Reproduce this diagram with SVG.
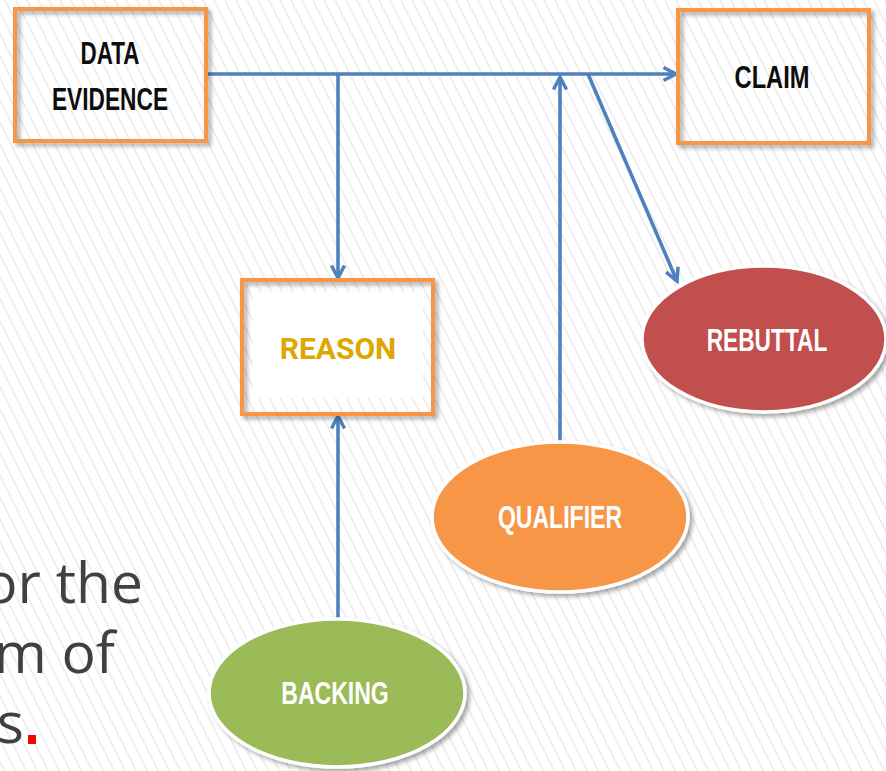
<svg xmlns="http://www.w3.org/2000/svg" width="886" height="771" viewBox="0 0 886 771">
  <defs>
    <!-- diagonal background hatching -->
    <pattern id="hatch" patternUnits="userSpaceOnUse" width="11" height="10" patternTransform="skewX(26.5)">
      <rect width="11" height="10" fill="#ffffff"/>
      <line x1="5" y1="-1" x2="5" y2="11" stroke="#e6e6e6" stroke-width="1.4"/>
    </pattern>
    <filter id="shadow" x="-20%" y="-20%" width="140%" height="140%">
      <feDropShadow dx="3" dy="3" stdDeviation="2" flood-color="#000" flood-opacity="0.35"/>
    </filter>
    <marker id="arrow" markerUnits="userSpaceOnUse" markerWidth="18" markerHeight="18" refX="14" refY="8" orient="auto" viewBox="0 0 18 16">
      <path d="M1.5,1.5 L14,8 L1.5,14.5" fill="none" stroke="#4F81BD" stroke-width="3.5" stroke-linejoin="miter"/>
    </marker>
    <style>
      .box { fill: none; stroke: #F79646; stroke-width: 4; filter: url(#shadow); }
      .oval { stroke: #ffffff; stroke-width: 3.5; filter: url(#shadow); }
      .lbl { font-family: "Liberation Sans", Arial, sans-serif; font-weight: bold; font-size: 32px; text-anchor: middle; }
      .dark { fill: #0d0d0d; }
      .light { fill: #ffffff; }
      .conn { fill: none; stroke: #4F81BD; stroke-width: 3.6; }
      .body { font-family: "Open Sans", "Noto Sans", sans-serif; font-size: 57px; fill: #404040; text-anchor: end; }
    </style>
  </defs>

  <rect width="886" height="771" fill="url(#hatch)"/>

  <!-- clipped slide text on the left -->
  <g id="slide-text">
    <text class="body" x="143" y="603">or the</text>
    <text class="body" x="115" y="673">m of</text>
    <text class="body" x="24" y="743">s</text>
    <rect x="28" y="735" width="8" height="9" fill="#ff0000"/>
  </g>

  <!-- connectors -->
  <g id="connectors">
    <line class="conn" x1="206" y1="74" x2="676" y2="74" marker-end="url(#arrow)"/>
    <line class="conn" x1="338" y1="74" x2="338" y2="278" marker-end="url(#arrow)"/>
    <line class="conn" x1="338" y1="618" x2="338" y2="416" marker-end="url(#arrow)"/>
    <line class="conn" x1="560" y1="442" x2="560" y2="77" marker-end="url(#arrow)"/>
    <line class="conn" x1="588" y1="74" x2="677" y2="281" marker-end="url(#arrow)"/>
  </g>

  <g id="data">
    <rect class="box" x="15" y="9" width="191" height="132"/>
    <text class="lbl dark" transform="translate(110 64) scale(0.7 1)">DATA</text>
    <text class="lbl dark" transform="translate(110 110) scale(0.71 1)">EVIDENCE</text>
  </g>

  <g id="claim">
    <rect class="box" x="678" y="10" width="191" height="133"/>
    <text class="lbl dark" transform="translate(772 88) scale(0.74 1)">CLAIM</text>
  </g>

  <g id="reason">
    <rect class="box" x="242" y="280" width="191" height="134"/>
    <rect x="253" y="292" width="170" height="106" fill="#ffffff"/>
    <text x="338" y="359" font-family="Roboto, 'Liberation Sans', sans-serif" font-weight="bold" font-size="30" fill="#DEA700" text-anchor="middle">REASON</text>
  </g>

  <g id="rebuttal">
    <ellipse class="oval" cx="764" cy="339" rx="122" ry="73" fill="#C0504D"/>
    <text class="lbl light" transform="translate(767 351) scale(0.71 1)">REBUTTAL</text>
  </g>

  <g id="qualifier">
    <ellipse class="oval" cx="560" cy="517" rx="128" ry="75" fill="#F79646"/>
    <text class="lbl light" transform="translate(560 528) scale(0.72 1)">QUALIFIER</text>
  </g>

  <g id="backing">
    <ellipse class="oval" cx="337" cy="693" rx="128" ry="74" fill="#9BBB59"/>
    <text class="lbl light" transform="translate(335 704) scale(0.72 1)">BACKING</text>
  </g>
</svg>
